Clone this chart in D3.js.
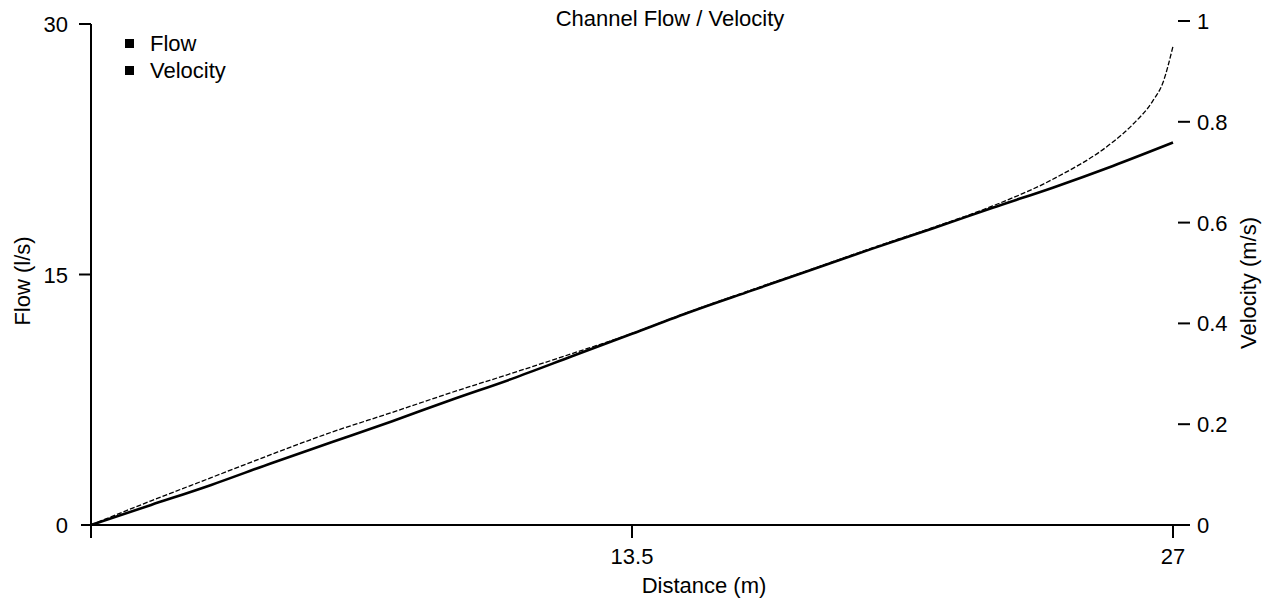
<!DOCTYPE html>
<html><head><meta charset="utf-8">
<script src="https://cdn.jsdelivr.net/npm/d3@7"></script>
<style>
body{margin:0;background:#fff;}
text{font-family:"Liberation Sans",Arial,sans-serif;fill:#000;}
</style></head>
<body><svg id="c" width="1266" height="603"></svg>
<script>
const distance = [0,1.5,3,4.5,6,7.5,9,10.5,12,13.5,15,16.5,18,19.5,21,22.5,24,25.5,27];
const flow =     [0,1.2,2.4,3.7,4.95,6.2,7.5,8.75,10.1,11.45,12.8,14.05,15.3,16.55,17.75,19.0,20.2,21.5,22.9];
const velDistance = [0,1.5,3,4.5,6,7.5,9,10.5,12,13.5,15,16.5,18,19.5,21,22.5,24,25.5,26,26.5,26.75,27];
const velocity =    [0,0.048,0.094,0.140,0.184,0.223,0.263,0.301,0.340,0.380,0.425,0.467,0.508,0.550,0.590,0.633,0.686,0.760,0.795,0.842,0.878,0.95];
const xTicks = [13.5,27];
const yLeftTicks = [0,15,30];
const yRightTicks = [0,0.2,0.4,0.6,0.8,1];
const title = "Channel Flow / Velocity";
const seriesNames = ["Flow","Velocity"];

const svg = d3.select("#c");
const x = d3.scaleLinear().domain([0,27]).range([91,1173]);
const yL = d3.scaleLinear().domain([0,30]).range([525,24]);
const yR = d3.scaleLinear().domain([0,1]).range([525,21]);
const fs = 22;

// left axis line
svg.append("line").attr("x1",91).attr("x2",91).attr("y1",24).attr("y2",538).attr("stroke","#000").attr("stroke-width",2);
yLeftTicks.forEach(t=>{
  svg.append("line").attr("x1",t===0?81:79).attr("x2",91).attr("y1",yL(t)).attr("y2",yL(t)).attr("stroke","#000").attr("stroke-width",2);
  svg.append("text").attr("x",68).attr("y",yL(t)+8).attr("text-anchor","end").attr("font-size",fs).text(t);
});
// x axis
svg.append("line").attr("x1",81).attr("x2",1190).attr("y1",525).attr("y2",525).attr("stroke","#000").attr("stroke-width",2);
xTicks.forEach(t=>{
  svg.append("line").attr("x1",x(t)).attr("x2",x(t)).attr("y1",525).attr("y2",538).attr("stroke","#000").attr("stroke-width",2);
  svg.append("text").attr("x",x(t)).attr("y",564).attr("text-anchor","middle").attr("font-size",fs).text(t);
});
svg.append("text").attr("x",704).attr("y",593).attr("text-anchor","middle").attr("font-size",fs).text("Distance (m)");
// right axis ticks
yRightTicks.forEach(t=>{
  svg.append("line").attr("x1",1178).attr("x2",1190).attr("y1",yR(t)).attr("y2",yR(t)).attr("stroke","#000").attr("stroke-width",2);
  svg.append("text").attr("x",1197).attr("y",yR(t)+8).attr("text-anchor","start").attr("font-size",fs).text(t);
});
// axis titles
svg.append("text").attr("transform","translate(30,281) rotate(-90)").attr("text-anchor","middle").attr("font-size",fs).text("Flow (l/s)");
svg.append("text").attr("transform","translate(1256,283) rotate(-90)").attr("text-anchor","middle").attr("font-size",fs).text("Velocity (m/s)");
// title
svg.append("text").attr("x",670).attr("y",26).attr("text-anchor","middle").attr("font-size",fs).text(title);

// lines
const lineL = d3.line().x(d=>x(d[0])).y(d=>yL(d[1])).curve(d3.curveMonotoneX);
const lineR = d3.line().x(d=>x(d[0])).y(d=>yR(d[1])).curve(d3.curveMonotoneX);
svg.append("path").attr("d",lineR(d3.zip(velDistance,velocity))).attr("fill","none").attr("stroke","#000").attr("stroke-width",1.3).attr("stroke-dasharray","5,2");
svg.append("path").attr("d",lineL(d3.zip(distance,flow))).attr("fill","none").attr("stroke","#000").attr("stroke-width",2.6);

// legend
seriesNames.forEach((n,i)=>{
  svg.append("rect").attr("x",125).attr("y",39+i*27).attr("width",9).attr("height",9).attr("fill","#000");
  svg.append("text").attr("x",150).attr("y",51+i*27).attr("font-size",fs).text(n);
});
</script></body></html>
